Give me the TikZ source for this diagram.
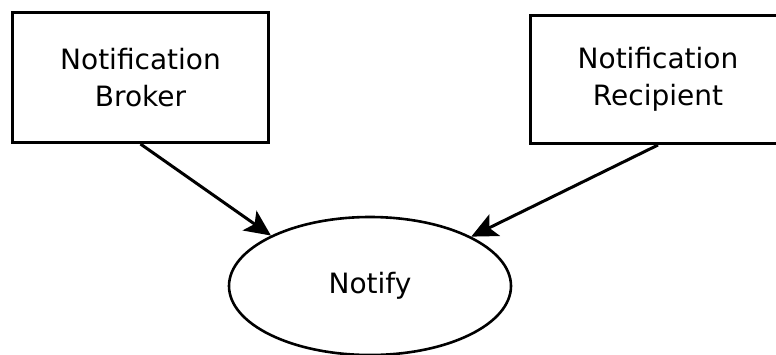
\documentclass[tikz,border=0pt]{standalone}
\usepackage{fontspec}
\setmainfont{DejaVu Sans}
\usepackage{tikz}
\usetikzlibrary{arrows.meta,shapes.geometric}

\tikzset{
  box/.style={draw, line width=3pt, rectangle, align=center, inner sep=0pt,
    font=\fontsize{28}{37}\selectfont},
  usecase/.style={draw, line width=2.6pt, ellipse, inner sep=0pt,
    minimum width=282pt, minimum height=138pt, font=\fontsize{28}{34}\selectfont},
  flow/.style={line width=3pt, -{Stealth[length=26pt, width=24pt, inset=6pt]}}
}

\begin{document}
\begin{tikzpicture}[x=1pt, y=-1pt]
\useasboundingbox (0,0) rectangle (776,354);
\node[box, minimum width=256pt, minimum height=130pt] (broker) at (140.5,77.5) {Notification\\Broker};
\node[box, minimum width=255pt, minimum height=128pt] (recipient) at (658,79.5) {Notification\\Recipient};
\node[usecase] (notify) at (370,286) {Notify};
\draw[flow] (broker.south) -- (notify.153);
\draw[flow] (recipient.south) -- (notify.26);
\end{tikzpicture}
\end{document}
